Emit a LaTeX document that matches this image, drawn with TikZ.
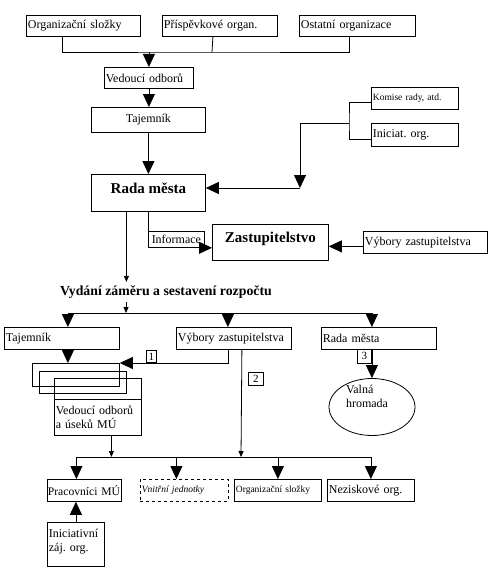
\documentclass[tikz,border=0pt]{standalone}
\usepackage{fontspec}
\setmainfont{Liberation Serif}
\usetikzlibrary{arrows.meta,shapes.geometric}
\begin{document}
\frenchspacing
\begin{tikzpicture}[x=1pt,y=-1pt,line width=0.8pt,
    font=\fontsize{12}{14}\selectfont,
    lbox/.style={draw,anchor=north west,inner xsep=1.5pt,inner ysep=0pt,minimum height=21pt,align=left},
    cbox/.style={draw,anchor=north west,inner xsep=1.5pt,inner ysep=0pt,minimum height=21pt},
    plain/.style={draw,anchor=north west,inner sep=0pt},
    small/.style={font=\fontsize{9.5}{11}\selectfont},
    heavy/.style={font=\fontsize{15}{17}\selectfont\bfseries},
    tag/.style={plain,font=\fontsize{11}{12}\selectfont},
    big/.style={-{Triangle[width=12pt,length=13pt]}},
    tip/.style={-{Triangle[width=5pt,length=6pt]}}]
  \useasboundingbox (0,0) rectangle (492,578);
  \draw
    (26,15) node[lbox,text width=111pt] (orgA){Organizační složky}
    (162,15) node[lbox,text width=112pt] (orgB){Příspěvkové organ.}
    (299,15) node[lbox,text width=113pt] (orgC){Ostatní organizace}
    (104,67) node[lbox,text width=86pt] (vedouci){Vedoucí odborů}
    (91,107) node[cbox,minimum width=114pt,minimum height=25pt] (tajemnik){Tajemník}
    (371,87) node[lbox,small,text width=84pt,minimum height=22pt] (komise){Komise rady, atd.}
    (371,123) node[lbox,text width=84pt,minimum height=23pt] (iniciat){Iniciat. org.}
    (91,174) node[cbox,heavy,minimum width=114pt,minimum height=37pt,text depth=10pt] (rada){Rada města}
    (148,231) node[cbox,inner xsep=1pt,minimum width=56pt,minimum height=16pt] (informace){Informace}
    (212,224) node[cbox,heavy,minimum width=116pt,minimum height=36pt,text depth=10pt] (zastup){Zastupitelstvo}
    (363,231) node[lbox,text width=121pt,minimum height=22pt] (vyboryZ){Výbory zastupitelstva}
    (166,292) node[font=\fontsize{13.8}{16}\selectfont\bfseries] (vydani){Vydání záměru a sestavení rozpočtu}
    (4,327) node[lbox,text width=112pt,minimum height=22pt] (tajemnik2){Tajemník}
    (176,327) node[lbox,text width=112pt,minimum height=22pt] (vybory2){Výbory zastupitelstva}
    (321,327) node[lbox,text width=112pt,minimum height=22pt] (rada2){Rada města}
    (32,363) node[plain,minimum width=87pt,minimum height=23pt] (layer1){}
    (39,371) node[plain,minimum width=87pt,minimum height=22pt] (layer2){}
    (54,378) node[plain,minimum width=87pt,minimum height=21pt] (layer3){}
    (54,399) node[lbox,text width=84pt,minimum height=36pt] (vedouci2){Vedoucí odborů\\a úseků MÚ}
    (146,350) node[tag,minimum width=10pt,minimum height=12pt] (one){1}
    (248,372) node[tag,minimum width=15pt,minimum height=13pt] (two){2}
    (357,349) node[tag,minimum width=14pt,minimum height=14pt] (three){3}
    (372,407) node[draw,ellipse,inner sep=0pt,minimum width=86pt,minimum height=57pt,
      label={[anchor=west,xshift=-5pt,yshift=9pt]center:\begin{tabular}{@{}l@{}}Valná\\hromada\end{tabular}}] (valna){}
    (47,479) node[lbox,inner xsep=0.5pt,text width=73pt,minimum height=22pt,font=\fontsize{11.6}{14}\selectfont] (pracovnici){\mbox{Pracovníci MÚ}}
    (140,479) node[lbox,small,dashed,text width=85pt,minimum height=22pt] (vnitrni){\itshape Vnitřní jednotky}
    (234,479) node[lbox,small,text width=84pt,minimum height=22pt] (orgsl){Organizační složky}
    (327,479) node[lbox,text width=84pt,minimum height=22pt] (nezisk){Neziskové org.}
    (47,522) node[lbox,text width=54pt,minimum height=44pt,text depth=23pt] (iniciativni){Iniciativní\\záj. org.};
  \coordinate (top) at (212,52);
  \coordinate (kj) at (349,123);
  \coordinate (kr) at (300,188);
  \coordinate (bus2) at (126,313);
  \coordinate (bus3) at (241,457);
  \draw ([xshift=-21pt]orgA.south) |- (top) -| ([xshift=-8pt]orgC.south);
  \draw ([xshift=-7pt]orgB.south) -- (top);
  \draw ([yshift=-4pt]komise.west) -| (kj) |- ([yshift=-4pt]iniciat.west);
  \draw (kj) -- (kj -| kr);
  \begin{scope}[big]
    \draw (vedouci.north |- top) -- (vedouci.north);
    \draw (vedouci.south) -- (vedouci.south |- tajemnik.north);
    \draw (tajemnik.south) -- (rada.north);
    \draw (kj -| kr) -- (kr);
    \draw (kr) -- (rada.east |- kr);
    \draw (rada.south) |- (informace.south -| zastup.west);
    \draw ([yshift=-4pt]vyboryZ.west) -- ([yshift=-4pt]vyboryZ.west -| zastup.east);
    \draw (bus2) -| ([xshift=6pt]tajemnik2.north);
    \draw (bus2) -| ([xshift=-6pt]vybory2.north);
    \draw (bus2) -| ([xshift=-7pt]rada2.north);
    \draw ([xshift=6pt]tajemnik2.south) -- ([xshift=6pt]tajemnik2.south |- layer1.north);
    \draw ([xshift=-6pt]vybory2.south) |- (layer1.north east);
    \draw ([xshift=-7pt]rada2.south) -- ([xshift=-7pt]rada2.south |- valna.north);
    \draw (bus3) -| ([xshift=-8pt]pracovnici.north);
    \draw (bus3) -| ([xshift=-8pt]vnitrni.north);
    \draw (bus3) -| (orgsl.north);
    \draw (bus3) -| (nezisk.north);
    \draw (iniciativni.north) -- (iniciativni.north |- pracovnici.south);
  \end{scope}
  \begin{scope}[tip]
    \draw ([xshift=-22pt]rada.south) -- ([xshift=-22pt]rada.south |- vydani.north);
    \draw (vydani.south -| bus2) -- (bus2);
    \draw ([xshift=8pt]vybory2.south) -- (bus3);
    \draw ([xshift=13.5pt]vedouci2.south) -- ([xshift=13.5pt]vedouci2.south |- bus3);
  \end{scope}
\end{tikzpicture}
\end{document}
